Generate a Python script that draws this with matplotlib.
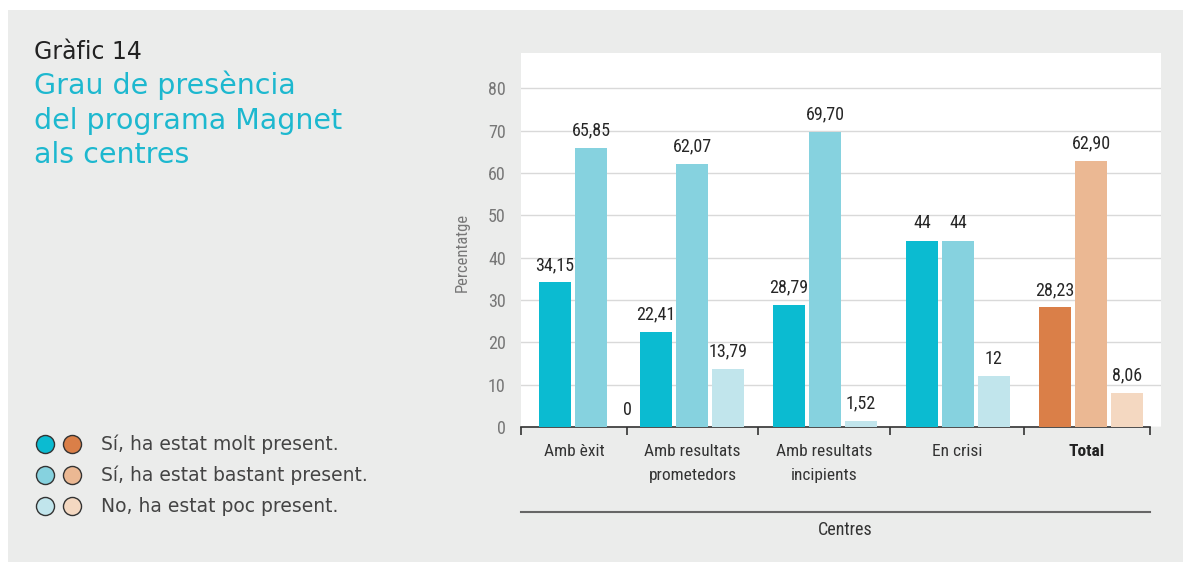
import numpy as np
import matplotlib
matplotlib.use('Agg')
import matplotlib.pyplot as plt
from matplotlib import font_manager
from matplotlib.lines import Line2D
from matplotlib.patches import Rectangle

# data
categories = ["Amb èxit", "Amb resultats\nprometedors", "Amb resultats\nincipients", "En crisi", "Total"]
molt = [34.15, 22.41, 28.79, 44, 28.23]
bastant = [65.85, 62.07, 69.70, 44, 62.90]
poc = [0, 13.79, 1.52, 12, 8.06]
legend_labels = ["Sí, ha estat molt present.", "Sí, ha estat bastant present.", "No, ha estat poc present."]

cyan = ["#0BBBD1", "#86D2DF", "#C1E5EC"]
orange = ["#DA7F48", "#EBB893", "#F4D8C1"]

# layout (x in pixel-like units of the original picture)
centres = np.array([591, 692, 825, 958, 1091])
separators = [521, 627, 758, 890, 1024, 1150]
bw = 32
step = 36

installed = {f.name for f in font_manager.fontManager.ttflist}
narrow = [f for f in ['Roboto Condensed', 'Liberation Sans Narrow', 'Roboto'] if f in installed]
narrow = narrow[:1] + ['DejaVu Sans']
title_font = ['DejaVu Sans']

fig = plt.figure(figsize=(11.83, 5.62), dpi=100)
fig.patch.set_facecolor('white')
fig.add_artist(Rectangle((8 / 1183, 0), 1, 1 - 10 / 562, transform=fig.transFigure,
                         facecolor='#EBECEB', edgecolor='none', zorder=0))

ax = fig.add_axes([521 / 1183, 1 - 427 / 562, (1161 - 521) / 1183, (427 - 53) / 562])
ax.set_facecolor('white')

series = [molt, bastant, poc]
for k, vals in enumerate(series):
    xs = centres + (k - 1) * step
    cols = [cyan[k]] * 4 + [orange[k]]
    ax.bar(xs, vals, width=bw, color=cols, zorder=3)
    for x, v in zip(xs, vals):
        txt = ("%.2f" % v).replace('.', ',') if v != int(v) else str(int(v))
        ax.annotate(txt, (x, v), xytext=(0, 6), textcoords='offset points',
                    ha='center', va='bottom', fontsize=13, color='#262626',
                    family=narrow)

ax.set_xlim(521, 1161)
ax.set_ylim(0, 88.3)
ax.set_yticks(range(0, 81, 10))
ax.grid(axis='y', color='#D9D9D9', lw=1, zorder=0)
ax.tick_params(axis='y', length=0, pad=11, labelsize=13, labelcolor='#777777')
for lab in ax.get_yticklabels():
    lab.set_family(narrow)
ax.set_ylabel("Percentatge", fontsize=12, color='#777777', family=narrow)
ax.yaxis.set_label_coords(-0.08, 0.468)

for s in ['top', 'right', 'left']:
    ax.spines[s].set_visible(False)
ax.spines['bottom'].set_bounds(separators[0], separators[-1])
ax.spines['bottom'].set_color('#333333')
ax.spines['bottom'].set_linewidth(1.2)
ax.set_xticks(separators)
ax.set_xticklabels([])
ax.tick_params(axis='x', which='major', length=6, width=1.2, color='#333333')
mids = [(separators[i] + separators[i + 1]) / 2 for i in range(len(categories))]
ax.set_xticks(mids, minor=True)
ax.set_xticklabels(categories, minor=True)
ax.tick_params(axis='x', which='minor', length=0, pad=12, labelsize=12.5, labelcolor='#333333')
for i, lab in enumerate(ax.get_xticklabels(minor=True)):
    lab.set_family(narrow)
    lab.set_linespacing(1.75)
    if categories[i] == "Total":
        lab.set_fontweight('bold')
        lab.set_color('#222222')

# bottom rule and axis title
fig.add_artist(Line2D([521 / 1183, 1150 / 1183], [1 - 512 / 562] * 2, transform=fig.transFigure,
                      color='#666666', lw=1.5))
fig.text(845 / 1183, 1 - 530 / 562, "Centres", ha='center', va='center', fontsize=13,
         color='#333333', family=narrow)

# titles
fig.text(34 / 1183, 1 - 59 / 562, "Gràfic 14", fontsize=17, color='#222222',
         family=title_font, va='baseline')
for i, line in enumerate(["Grau de presència", "del programa Magnet", "als centres"]):
    fig.text(34 / 1183, 1 - (94 + 34.5 * i) / 562, line, fontsize=20.5, color='#1DB8CF',
             family=title_font, va='baseline')

# legend
for r, lbl in enumerate(legend_labels):
    y = 1 - (444 + 31 * r) / 562
    for c, col in enumerate([cyan[r], orange[r]]):
        fig.add_artist(Line2D([(45 + 27 * c) / 1183], [y], transform=fig.transFigure,
                              marker='o', markersize=13, markerfacecolor=col,
                              markeredgecolor='#333333', markeredgewidth=1.0, ls='none'))
    fig.text(101 / 1183, y, lbl, fontsize=13.5, color='#444444', family=title_font,
             va='center')

fig.savefig('out.png', dpi=100, facecolor=fig.get_facecolor())
